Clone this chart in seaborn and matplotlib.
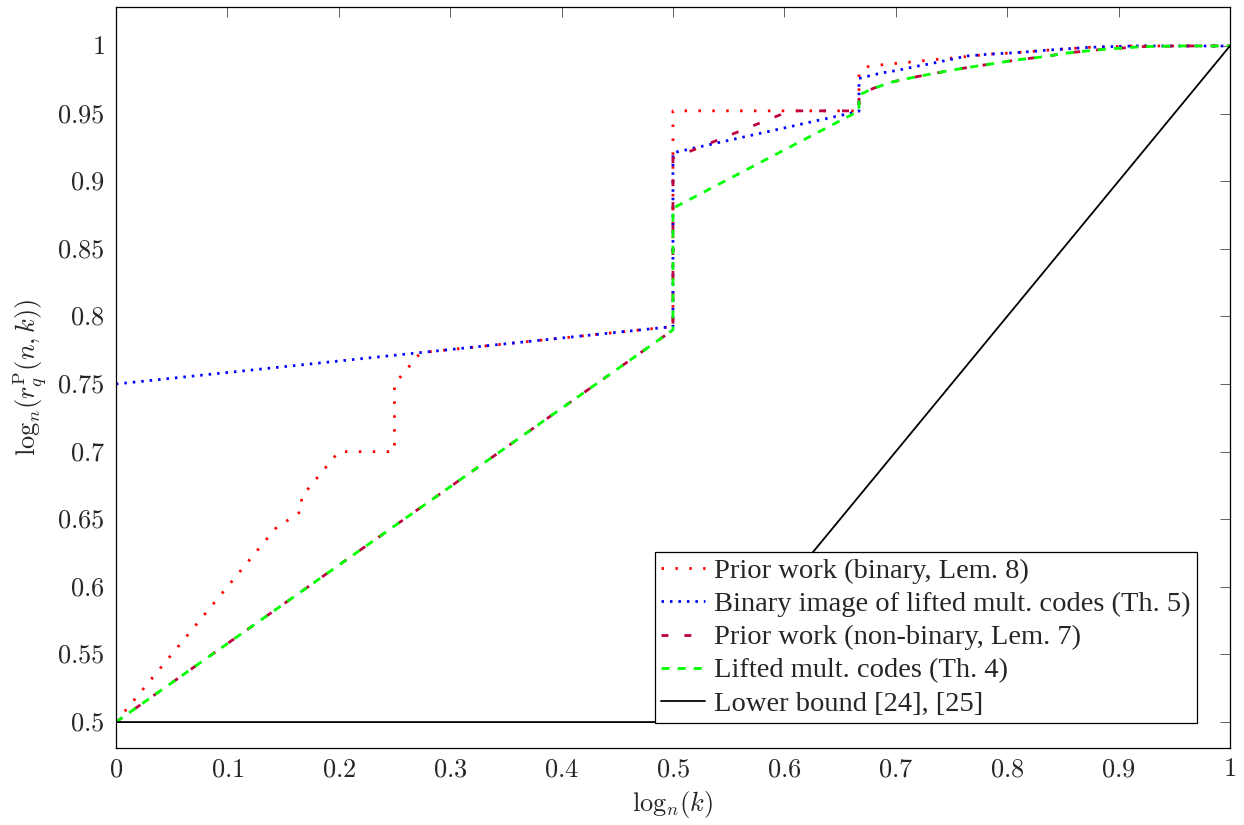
import seaborn as sns
import pandas as pd
import matplotlib.pyplot as plt

# series
x_bin_prior = [0, 0.143, 0.1665, 0.1667, 0.2, 0.25, 0.25, 0.2735, 0.5, 0.5, 0.667, 0.667,
               0.675, 0.687, 0.699, 0.712, 0.723, 0.736, 0.75, 0.785, 0.808, 0.838, 0.874, 0.913, 1]
y_bin_prior = [0.5, 0.643, 0.656, 0.6667, 0.7, 0.7, 0.75, 0.7732, 0.7925, 0.952, 0.952, 0.98,
               0.9847, 0.986, 0.987, 0.988, 0.989, 0.990, 0.991, 0.994, 0.995, 0.997, 0.999, 1.0, 1]

x_bin_lifted = [0, 0.5, 0.5, 0.667, 0.667, 0.687, 0.702, 0.717, 0.732, 0.747, 0.764, 0.785,
                0.808, 0.838, 0.874, 0.913, 1]
y_bin_lifted = [0.75, 0.7925, 0.921, 0.9517, 0.976, 0.980, 0.982, 0.9847, 0.987, 0.9896, 0.9926,
                0.994, 0.995, 0.997, 0.999, 1.0, 1]

x_nb_prior = [0, 0.5, 0.5, 0.605, 0.667, 0.667, 0.680, 0.698, 0.719, 0.743, 0.764, 0.788, 0.808,
              0.832, 0.856, 0.886, 0.922, 0.958, 1]
y_nb_prior = [0.5, 0.79, 0.917, 0.952, 0.952, 0.9637, 0.9687, 0.9736, 0.9773, 0.981, 0.984,
              0.987, 0.9896, 0.992, 0.995, 0.9975, 0.9995, 1.0, 1]

x_lifted = [0, 0.5, 0.5, 0.667, 0.667, 0.680, 0.698, 0.719, 0.743, 0.764, 0.788, 0.808,
            0.832, 0.856, 0.886, 0.922, 0.958, 1]
y_lifted = [0.5, 0.79, 0.88, 0.952, 0.9637, 0.9687, 0.9736, 0.9773, 0.981, 0.984, 0.987,
            0.9896, 0.992, 0.995, 0.9975, 0.9995, 1.0, 1]

x_lower = [0, 0.5, 1]
y_lower = [0.5, 0.5, 1]

x_ticks = [0, 0.1, 0.2, 0.3, 0.4, 0.5, 0.6, 0.7, 0.8, 0.9, 1]
y_ticks = [0.5, 0.55, 0.6, 0.65, 0.7, 0.75, 0.8, 0.85, 0.9, 0.95, 1]

sns.set_style("white")
plt.rcParams['font.family'] = ['Liberation Serif', 'DejaVu Serif']
plt.rcParams['mathtext.fontset'] = 'cm'

fig = plt.figure(figsize=(12.44, 8.25), dpi=100)
ax = fig.add_axes([0.0932, 0.0933, 0.8955, 0.8982])

series = [
    (x_bin_prior, y_bin_prior, "Prior work (binary, Lem. 8)", "#ff0000", (0.9, 4.1)),
    (x_bin_lifted, y_bin_lifted, "Binary image of lifted mult. codes (Th. 5)", "#0000ff", (0.9, 2.15)),
    (x_nb_prior, y_nb_prior, "Prior work (non-binary, Lem. 7)", "#bf0040", (2.5, 5.75)),
    (x_lifted, y_lifted, "Lifted mult. codes (Th. 4)", "#00ff00", (2.9, 2.9)),
    (x_lower, y_lower, "Lower bound [24], [25]", "black", None),
]

for xs, ys, lab, col, dash in series:
    df = pd.DataFrame({"x": xs, "y": ys})
    line_ax = sns.lineplot(data=df, x="x", y="y", ax=ax, sort=False, estimator=None,
                           color=col, label=lab, linewidth=2.0 if dash else 1.3)
    ln = line_ax.get_lines()[-1]
    if dash:
        ln.set_dashes(dash)
        ln.set_dash_capstyle('butt')

ax.set_xlim(0, 1)
ax.set_ylim(0.4808, 1.0288)
ax.set_xticks(x_ticks)
ax.set_yticks(y_ticks)
ax.set_xticklabels([f"${t:g}$" for t in x_ticks])
ax.set_yticklabels([f"${t:g}$" for t in y_ticks])
ax.tick_params(direction='in', length=7.5, width=0.6, labelsize=19, top=True, right=True,
               pad=8, color='#444444')
for s in ax.spines.values():
    s.set_color('black')
    s.set_linewidth(0.9)

ax.set_xlabel(r"$\mathrm{log}_n(k)$", fontsize=19, labelpad=6)
ax.set_ylabel(r"$\mathrm{log}_n(r_q^{\mathrm{P}}(n,k))$", fontsize=19, labelpad=6)

leg = ax.legend(loc='lower right', bbox_to_anchor=(0.970, 0.034), borderaxespad=0,
                fontsize=20.5, fancybox=False, framealpha=1, edgecolor='black',
                handlelength=1.55, handletextpad=0.3, labelspacing=0.25, borderpad=0.22)
leg.get_frame().set_linewidth(0.9)

fig.savefig("out.png", dpi=100)
